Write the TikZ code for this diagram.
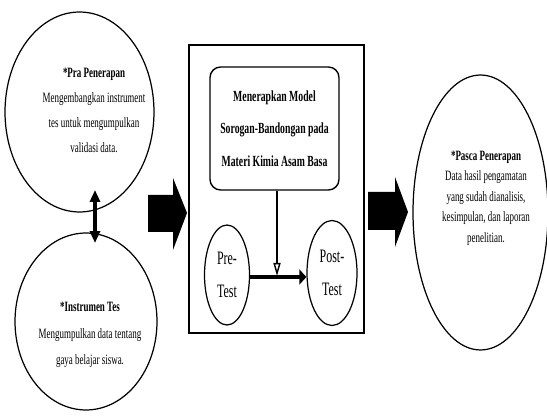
\documentclass[tikz,border=0pt]{standalone}
\usepackage{fontspec}
\setmainfont[FakeStretch=0.63]{Liberation Serif}
\usepackage{tikz}
\usetikzlibrary{shapes.geometric, arrows.meta, positioning, calc}
\tikzset{
  stageoval/.style={
    ellipse, draw, line width=0.7pt, inner sep=0pt
  },
  stagetext/.style={
    align=center, inner sep=0pt
  },
  framebox/.style={
    draw, line width=0.9pt, inner sep=0pt
  },
  modelbox/.style={
    draw, rounded corners=6pt, line width=0.8pt, inner sep=0pt,
    minimum width=2.58cm, minimum height=2.46cm
  },
  blockarrow/.style={
    fill=black
  },
  linkarrow/.style={
    -{Triangle[length=4pt, width=8.5pt]}, line width=2.8pt
  },
}

\begin{document}
\begin{tikzpicture}[x=0.02cm, y=-0.02cm]
  \useasboundingbox (0,0) rectangle (547,418);

  % === Left stages ===
  \node[stageoval, minimum width=2.98cm, minimum height=4cm] (pra) at (79.5,112) {};
  \node[stagetext, font=\fontsize{8.1}{14.2}\selectfont] (pratext) at (94,110)
    {\textbf{*Pra Penerapan}\\
    Mengembangkan instrument\\
    tes untuk mengumpulkan\\
    validasi data.};

  \node[stageoval, minimum width=2.84cm, minimum height=3.54cm] (instrumen) at (86,321.5) {};
  \node[stagetext, font=\fontsize{8.1}{15}\selectfont] (instrumentext) at (90,335)
    {\textbf{*Instrumen Tes}\\
    Mengumpulkan data tentang\\
    gaya belajar siswa.};

  \coordinate (linktop) at (95,190);
  \coordinate (linkbot) at (95,243);
  \draw[{Triangle[length=6.8pt, width=5.7pt]}-{Triangle[length=6.8pt, width=5.7pt]}, line width=2.3pt] (linktop) -- (linkbot);

  % === Block arrows ===
  \fill[blockarrow] (148,195) -- (173,195) -- (173,178) -- (187,213) -- (173,250) -- (173,232) -- (148,232) -- cycle;
  \fill[blockarrow] (368,192) -- (395,192) -- (395,177) -- (408,212) -- (395,247) -- (395,230) -- (368,230) -- cycle;

  % === Middle frame ===
  \node[framebox, minimum width=3.5cm, minimum height=5.76cm] (frame) at (276.5,189) {};
  \node[modelbox, font=\bfseries\fontsize{8.8}{18.5}\selectfont, align=center] (model) at (274.5,128.5)
    {Menerapkan Model\\
    Sorogan-Bandongan pada\\
    Materi Kimia Asam Basa};

  \node[stageoval, minimum width=0.9cm, minimum height=2cm, font=\fontsize{10.8}{18.8}\selectfont, align=center] (pre) at (227,275) {Pre-\\Test};
  \node[stageoval, minimum width=1cm, minimum height=2.1cm, font=\fontsize{10.8}{18.8}\selectfont, align=center] (post) at (332,273) {Post-\\Test};

  \draw[linkarrow] ($(pre.east)+(0,2)$) -- ($(post.west)+(0,4)$);
  \draw[-{Triangle[open, length=7.4pt, width=4pt]}, line width=0.8pt] ($(model.south)+(2.5,0)$) -- ($(model.south |- pre.east)+(2.5,1)$);

  % === Right stage ===
  \node[stageoval, minimum width=2.7cm, minimum height=5.5cm] (pasca) at (480.5,212.5) {};
  \node[stagetext, font=\fontsize{8.1}{11.7}\selectfont] (pascatext) at (486,198)
    {\textbf{*Pasca Penerapan}\\
    Data hasil pengamatan\\
    yang sudah dianalisis,\\
    kesimpulan, dan laporan\\
    penelitian.};

\end{tikzpicture}
\end{document}
